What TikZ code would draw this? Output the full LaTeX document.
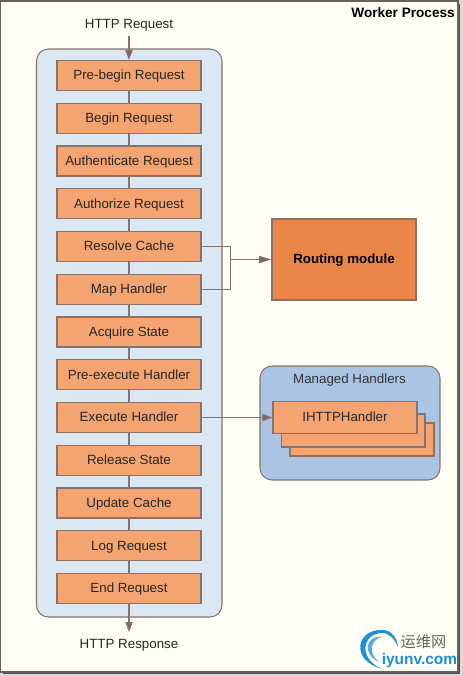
\documentclass[tikz,border=0pt]{standalone}
\usepackage{fontspec}
\setmainfont{Liberation Sans}
\newfontfamily\cjk{Noto Sans CJK SC}
\usetikzlibrary{arrows.meta,calc}
\definecolor{paper}{HTML}{FEFEF6}
\definecolor{stepfill}{HTML}{F4A470}
\definecolor{edge}{HTML}{8A7268}
\definecolor{panelblue}{HTML}{D9E8F3}
\definecolor{mgdblue}{HTML}{A9C5E3}
\definecolor{routefill}{HTML}{E98647}
\definecolor{logoblue}{HTML}{1E90D8}
\definecolor{frameline}{HTML}{6B5F58}
\tikzset{
  x=0.75pt,y=-0.75pt,
  stepbox/.style={draw=edge,line width=0.8pt,fill=stepfill,minimum width=108pt,minimum height=22.5pt,inner sep=0pt,text height=8.2pt,text depth=1.5pt,font=\fontsize{10pt}{11pt}\selectfont,text=black!85},
  panel/.style={draw=edge,line width=0.8pt,rounded corners=9pt},
  link/.style={draw=edge,line width=0.8pt},
  arrowlink/.style={link,-{Triangle[length=7.5pt,width=5.5pt,fill=edge!90!black]}},
  longarrow/.style={link,-{Triangle[length=9.5pt,width=5.5pt,fill=edge!90!black]}},
  caption/.style={inner sep=0pt,text height=8.2pt,text depth=1.5pt,font=\fontsize{10pt}{11pt}\selectfont,text=black!85}
}
\begin{document}
\begin{tikzpicture}
\useasboundingbox (0,0) rectangle (463,676);
\fill[white!85!black] (0,0) rectangle (463,676);
\fill[black!70] (3,4) rectangle (460,674);
\draw[fill=paper,draw=frameline,line width=0.9pt] (0.5,1) rectangle (458,672);
\node[inner sep=0pt,anchor=east,text height=8.2pt,text depth=1.5pt,font=\bfseries\fontsize{10.2pt}{11pt}\selectfont] (wp) at (455,13.5) {Worker Process};

\draw[panel,fill=panelblue] (36.5,49) rectangle (222,617);
\coordinate (reqtop) at (129,36);
\coordinate (resend) at (129,632);
\node[caption] (req) at (129,24.5) {HTTP Request};
\node[caption] (res) at (129,644.5) {HTTP Response};

\foreach \n/\t [count=\i from 0] in {a/Pre-begin Request,b/Begin Request,c/Authenticate Request,d/Authorize Request,e/Resolve Cache,f/Map Handler,g/Acquire State,h/Pre-execute Handler,i/Execute Handler,j/Release State,k/Update Cache,l/Log Request,m/End Request}{
  \node[stepbox] (\n) at (129,{75.5+42.75*\i}) {\t};
}
\foreach \p/\q in {a/b,b/c,c/d,d/e,e/f,f/g,g/h,h/i,i/j,j/k,k/l,l/m}{\draw[link] (\p) -- (\q);}
\draw[arrowlink] (reqtop) -- (a.north);
\draw[arrowlink] (m.south) -- (resend);

\node[draw=edge,line width=0.8pt,fill=routefill,minimum width=108pt,minimum height=60.75pt,inner sep=0pt,text height=8.2pt,text depth=1.5pt,font=\bfseries\fontsize{10pt}{11pt}\selectfont] (route) at (344,259.5) {Routing module};
\coordinate (joint) at (230.5,259.5);
\draw[link] (e.east) -| (joint);
\draw[link] (f.east) -| (joint);
\draw[longarrow] (joint) -- (route.west);

\draw[panel,fill=mgdblue] (260,366) rectangle (440,480);
\node[caption,text=black!80] (mh) at (349.5,379.5) {Managed Handlers};
\draw[draw=edge,line width=0.8pt,fill=stepfill] (290,423) rectangle (434,456);
\draw[draw=edge,line width=0.8pt,fill=stepfill] (281.5,414) rectangle (425,447);
\node[stepbox,minimum height=24.4pt] (ih) at (345,417.5) {IHTTPHandler};
\draw[arrowlink] (i.east) -- (ih.west);

% watermark
\node[inner sep=0pt,text=black!60,font=\cjk\fontsize{11.4pt}{12pt}\selectfont] (wm1) at (423.5,642) {运维网};
\node[inner sep=0pt,text=logoblue,font=\bfseries\fontsize{11.6pt}{12pt}\selectfont] (wm2) at (419.5,660) {iyunv.com};
\fill[logoblue] (381,668.5) .. controls (350,660) and (356,628) .. (384,630) .. controls (392,631) and (397,638) .. (398,647) .. controls (394,638) and (389,633.5) .. (383,632.8) .. controls (362,633) and (358,658) .. (381,668.5) -- cycle;
\fill[logoblue!75] (379,662) .. controls (362,654) and (365,636) .. (382,636.5) .. controls (371,640) and (367,652) .. (379,662) -- cycle;
\end{tikzpicture}
\end{document}
